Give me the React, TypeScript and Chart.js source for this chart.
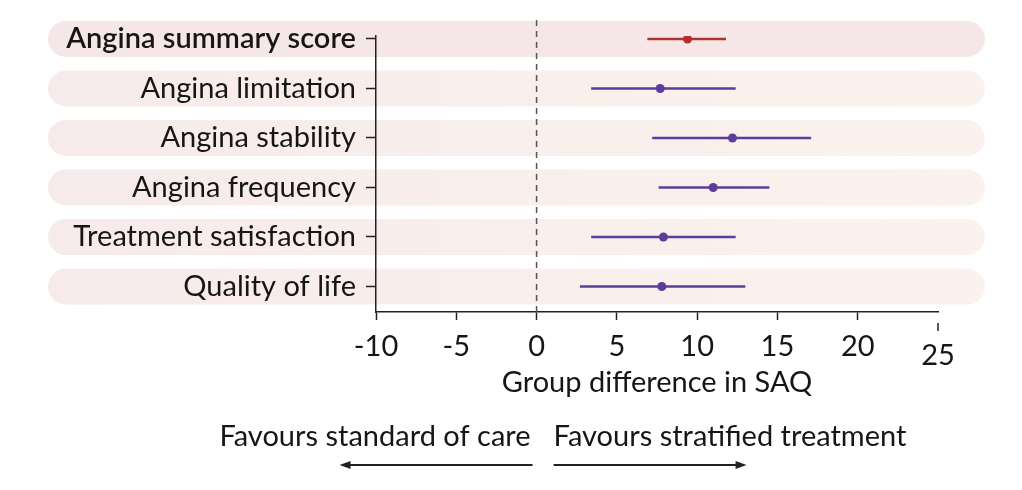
import React, { useEffect, useRef } from "react";
import { Chart, registerables } from "chart.js";

Chart.register(...registerables);

const outcomes = [
  "Angina summary score",
  "Angina limitation",
  "Angina stability",
  "Angina frequency",
  "Treatment satisfaction",
  "Quality of life",
];
const estimate = [9.4, 7.7, 12.2, 11.0, 7.9, 7.8];
const lower = [6.9, 3.4, 7.2, 7.6, 3.4, 2.7];
const upper = [11.8, 12.4, 17.1, 14.5, 12.4, 13.0];
const xTicks = [-10, -5, 0, 5, 10, 15, 20, 25];
const shiftedTick = 25;

const RED = "#b3302f";
const PURPLE = "#5e3c9b";
const INK = "#161616";
const FONT = "Lato";
const SIZE = 29;

const rowColor = (i: number) => (i === 0 ? RED : PURPLE);

const forestPlugin = {
  id: "forest",
  beforeDraw(chart: any) {
    const { ctx } = chart;
    const y = chart.scales.y;
    const left = 48;
    const right = chart.width - 37;
    outcomes.forEach((_, i) => {
      const yc = y.getPixelForValue(i);
      ctx.save();
      if (i === 0) {
        ctx.fillStyle = "#f5e7e7";
      } else {
        const g = ctx.createLinearGradient(left, 0, right, 0);
        g.addColorStop(0, "#f6ebea");
        g.addColorStop(1, "#fbf2ed");
        ctx.fillStyle = g;
      }
      ctx.beginPath();
      ctx.roundRect(left, yc - 18, right - left, 36, 18);
      ctx.fill();
      ctx.restore();
    });
  },
  beforeDatasetsDraw(chart: any) {
    const { ctx } = chart;
    const x = chart.scales.x;
    const x0 = x.getPixelForValue(0);
    ctx.save();
    ctx.strokeStyle = "#555";
    ctx.lineWidth = 1.5;
    ctx.setLineDash([6, 5]);
    ctx.beginPath();
    ctx.moveTo(x0, 20);
    ctx.lineTo(x0, chart.chartArea.bottom);
    ctx.stroke();
    ctx.restore();
  },
  afterDraw(chart: any) {
    const { ctx } = chart;
    const x = chart.scales.x;
    const bottom = chart.chartArea.bottom;
    const x0 = x.getPixelForValue(0);
    ctx.save();
    // shifted 25 tick and label
    const xs = x.getPixelForValue(shiftedTick);
    ctx.strokeStyle = "#222";
    ctx.lineWidth = 1.5;
    ctx.beginPath();
    ctx.moveTo(xs, bottom + 11);
    ctx.lineTo(xs, bottom + 19);
    ctx.stroke();
    ctx.fillStyle = INK;
    ctx.font = `${SIZE}px ${FONT}`;
    ctx.textAlign = "center";
    ctx.textBaseline = "middle";
    ctx.fillText(String(shiftedTick), xs, bottom + 44);

    // axis title
    ctx.fillText("Group difference in SAQ", (x.left + x.right) / 2, bottom + 71);

    // favours labels
    ctx.textAlign = "right";
    ctx.fillText("Favours standard of care", x0 - 6, bottom + 125);
    ctx.textAlign = "left";
    ctx.fillText("Favours stratified treatment", x0 + 17, bottom + 125);

    // arrows
    const ay = bottom + 153;
    ctx.strokeStyle = "#222";
    ctx.fillStyle = "#222";
    ctx.lineWidth = 2;
    const arrow = (from: number, to: number) => {
      const dir = Math.sign(to - from);
      ctx.beginPath();
      ctx.moveTo(from, ay);
      ctx.lineTo(to - dir * 8, ay);
      ctx.stroke();
      ctx.beginPath();
      ctx.moveTo(to, ay);
      ctx.lineTo(to - dir * 11, ay - 4);
      ctx.lineTo(to - dir * 11, ay + 4);
      ctx.closePath();
      ctx.fill();
    };
    arrow(x0 - 4, x0 - 197);
    arrow(x0 + 17, x0 + 210);
    ctx.restore();
  },
};

export default function App() {
  const ref = useRef<HTMLCanvasElement | null>(null);

  useEffect(() => {
    if (!ref.current) return;
    const ciSets = outcomes.map((name, i) => ({
      label: name,
      data: [
        { x: lower[i], y: i },
        { x: upper[i], y: i },
      ],
      showLine: true,
      borderColor: rowColor(i),
      borderWidth: 2.5,
      pointRadius: 0,
    }));
    const pointSet = {
      label: "Estimate",
      data: estimate.map((v, i) => ({ x: v, y: i })),
      showLine: false,
      pointRadius: 4.5,
      pointBackgroundColor: outcomes.map((_, i) => rowColor(i)),
      pointBorderColor: outcomes.map((_, i) => rowColor(i)),
      pointBorderWidth: 0,
    };

    const chart = new Chart(ref.current, {
      type: "scatter",
      data: { datasets: [...ciSets, pointSet] as any },
      plugins: [forestPlugin],
      options: {
        animation: false,
        responsive: true,
        maintainAspectRatio: false,
        layout: { padding: { top: 36, right: 84, left: 0, bottom: 0 } },
        plugins: {
          legend: { display: false },
          tooltip: { enabled: false },
        },
        scales: {
          x: {
            type: "linear",
            min: -10,
            max: 25,
            afterBuildTicks: (s: any) => {
              s.ticks = xTicks.map((v) => ({ value: v }));
            },
            afterFit: (s: any) => {
              s.height = 178;
            },
            border: { display: true, color: "#222", width: 1.5 },
            grid: {
              drawOnChartArea: false,
              drawTicks: true,
              tickLength: 8,
              tickWidth: 1.5,
              tickColor: (c: any) => (c.tick && c.tick.value === shiftedTick ? "rgba(0,0,0,0)" : "#222"),
            },
            ticks: {
              padding: 9,
              maxRotation: 0,
              autoSkip: false,
              font: { family: FONT, size: SIZE },
              color: (c: any) => (c.tick && c.tick.value === shiftedTick ? "rgba(0,0,0,0)" : INK),
              callback: (v: any) => String(v),
            },
          },
          y: {
            type: "linear",
            reverse: true,
            min: -0.06,
            max: 5.515,
            afterBuildTicks: (s: any) => {
              s.ticks = outcomes.map((_, i) => ({ value: i }));
            },
            afterFit: (s: any) => {
              s.width = 376;
            },
            border: { display: true, color: "#222", width: 1.5 },
            grid: {
              drawOnChartArea: false,
              drawTicks: true,
              tickLength: 10,
              tickWidth: 1.5,
              tickColor: "#222",
            },
            ticks: {
              padding: 10,
              autoSkip: false,
              font: (c: any) => ({
                family: FONT,
                size: SIZE,
                weight: c.index === 0 ? "600" : "normal",
              }),
              color: INK,
              callback: (v: any) => outcomes[Math.round(Number(v))] ?? "",
            },
          },
        },
      },
    });
    return () => chart.destroy();
  }, []);

  return (
    <div style={{ position: "absolute", left: 0, top: 0, width: 1022, height: 490, background: "#fff" }}>
      <canvas ref={ref} />
    </div>
  );
}
